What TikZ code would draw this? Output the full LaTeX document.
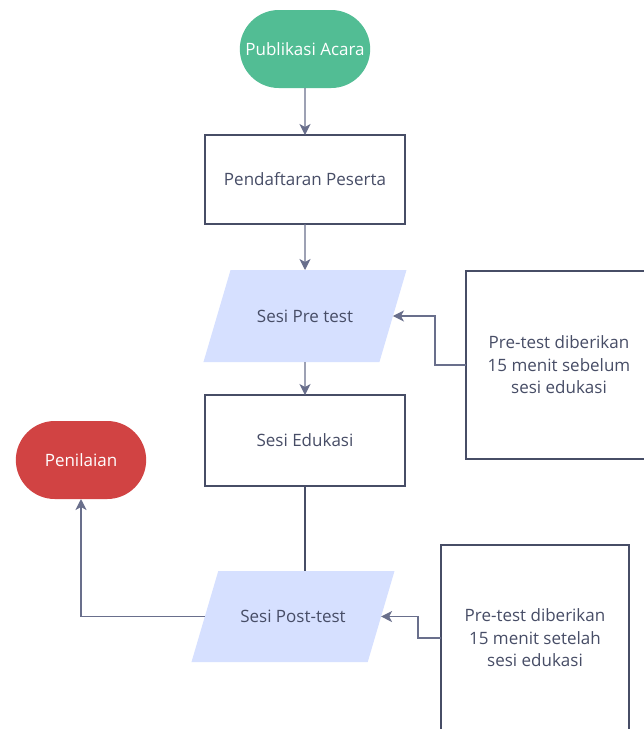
\documentclass[tikz,border=0pt]{standalone}
\usepackage{fontspec}
\setmainfont{Open Sans}
\usetikzlibrary{positioning,shapes.misc,shapes.geometric,arrows.meta}

\definecolor{inkdark}{HTML}{474D66}
\definecolor{inkline}{HTML}{696F8C}
\definecolor{startgreen}{HTML}{52BD94}
\definecolor{endred}{HTML}{D14343}
\definecolor{iofill}{HTML}{D6E0FF}

\tikzset{
  terminal/.style={rounded rectangle, minimum width=137pt, minimum height=78pt,
    text=white, draw=none, outer sep=0pt},
  process/.style={rectangle, draw=inkdark, line width=2.2pt, fill=white,
    minimum width=200pt, minimum height=89pt, text=inkdark, outer sep=0pt},
  iobox/.style={trapezium, trapezium left angle=73.6, trapezium right angle=106.4,
    trapezium stretches body, fill=iofill, draw=none, minimum width=203pt,
    text height=12pt, text depth=0pt, inner ysep=40pt, text=inkdark, outer sep=0pt},
  notebox/.style={rectangle, draw=inkdark, line width=2.2pt, fill=white,
    minimum width=186pt, minimum height=188pt, text=inkdark, align=center,
    outer sep=0pt},
  arr/.style={draw=inkline, line width=1.3pt,
    -{Stealth[length=11pt,width=11pt,inset=3pt]}},
  link/.style={draw=inkdark, line width=2.2pt}
}

\begin{document}
\begin{tikzpicture}[x=1pt,y=-1pt,font=\fontsize{17}{22.5}\selectfont]
  \clip (0,0) rectangle (644,729);
  \fill[white] (0,0) rectangle (644,729);

  % Define nodes
  \node[terminal, fill=startgreen]                   (pub)      at (305,49) {Publikasi Acara};
  \node[process, below=47pt of pub]                  (daftar)   {Pendaftaran Peserta};
  \node[iobox, below=46pt of daftar]                 (pre)      {Sesi Pre test};
  \node[process, below=33pt of pre, minimum height=91pt] (edukasi) {Sesi Edukasi};
  \node[iobox, below=85pt of edukasi, xshift=-12pt, inner ysep=39.5pt] (post) {Sesi Post-test};
  \node[terminal, fill=endred]                       (nilai)    at (81,460) {Penilaian};
  \node[notebox]                                     (catpre)   at (559,365) {Pre-test diberikan\\15 menit sebelum\\sesi edukasi};
  \node[notebox, minimum width=188pt, minimum height=186pt] (catpost) at (535,638) {Pre-test diberikan\\15 menit setelah\\sesi edukasi};

  % Connect the nodes
  \draw[arr]  (pub) -- (daftar);
  \draw[arr]  (daftar) -- (pre);
  \draw[arr]  (pre) -- (edukasi);
  \draw[link] (edukasi.south) -- (edukasi.south |- post.north);
  \draw[arr]  (catpre.west) -- ++(-31,0) |- (pre.east);
  \draw[arr]  (catpost.west) -- ++(-23,0) |- (post.east);
  \draw[arr]  (post.west) -| (nilai.south);
\end{tikzpicture}
\end{document}
